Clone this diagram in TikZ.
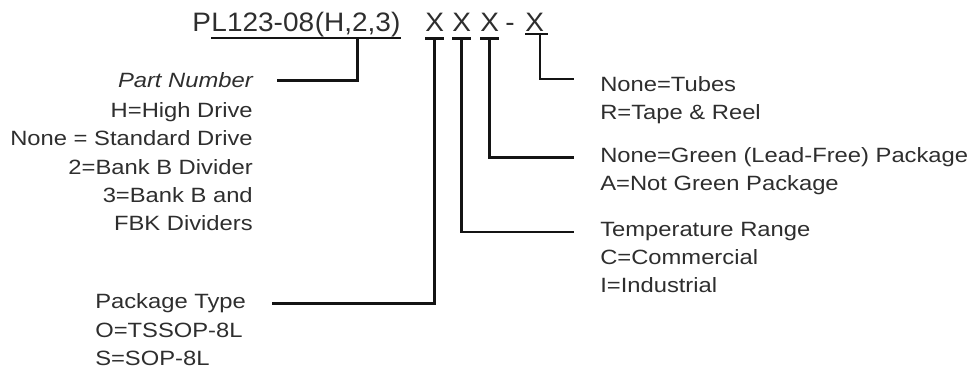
\documentclass[tikz,border=0pt]{standalone}
\usepackage{fontspec}
\setmainfont{Liberation Sans}[FakeStretch=1.15]
\newfontfamily\codefont{Liberation Sans}[FakeStretch=1.05]
\usetikzlibrary{calc,positioning}
\definecolor{Ink}{HTML}{2E2E2E}
\definecolor{Wire}{HTML}{141414}

\begin{document}
\begin{tikzpicture}[x=0.75pt,y=-0.75pt,
  every node/.style={inner sep=0pt,text=Ink,font=\fontsize{15.5}{21.3}\selectfont},
  code/.style={anchor=base west,font=\codefont\fontsize{20}{24}\selectfont},
  lead/.style={draw=Wire,line width=1.8pt,shorten >=19.5pt},
  bar/.style={draw=Wire,line width=1.8pt}]
  \useasboundingbox (0,0) rectangle (972,370);
  % ordering code
  \node[code] (pp) at (192,32) {P};
  \node[code] (pnum) at (pp.base east) {L123-08};
  \node[code] (popt) at (pnum.base east) {(H,2,3)};
  \node[code] (xpkg) at (425,32) {X};
  \node[code] (xtemp) at (452,32) {X};
  \node[code] (xgreen) at (480,32) {X};
  \node[code] (dash) at (505,32) {-};
  \node[code] (xreel) at (525,32) {X};
  % field descriptions (base of a multi-line node = its last line)
  \node[anchor=base east,font=\itshape\fontsize{15.5}{21.3}\selectfont] (partno) at (253,88) {Part Number};
  \node[anchor=base east,align=right] (partnobody) at (253,231) {H=High Drive\\None = Standard Drive\\2=Bank B Divider\\3=Bank B and\\FBK Dividers};
  \node[anchor=base west] (pkg) at (95,309) {Package Type};
  \node[anchor=base west,align=left] (pkgbody) at (95,366) {O=TSSOP-8L\\S=SOP-8L};
  \node[anchor=base west] (temp) at (600,237) {Temperature Range};
  \node[anchor=base west,align=left] (tempbody) at (600,293) {C=Commercial\\I=Industrial};
  \node[anchor=base west] (green) at (600,163) {None=Green (Lead-Free) Package};
  \node[anchor=base west] (greenbody) at (600,191) {A=Not Green Package};
  \node[anchor=base west] (reel) at (600,92) {None=Tubes};
  \node[anchor=base west] (reelbody) at (600,120) {R=Tape \& Reel};
  % underlines
  \draw[bar] ([yshift=-4.5pt]pnum.base west) -- ([yshift=-4.5pt]popt.base east);
  \draw[bar] ([yshift=-5pt]xpkg.base west) -- ([yshift=-5pt]xpkg.base east);
  \draw[bar] ([yshift=-5pt]xtemp.base west) -- ([yshift=-5pt]xtemp.base east);
  \draw[bar] ([yshift=-5pt]xgreen.base west) -- ([yshift=-5pt]xgreen.base east);
  \draw[bar] ([yshift=-1.5pt]xreel.base west) -- ([xshift=3pt,yshift=-1.5pt]xreel.base east);
  % leaders
  \draw[lead,shorten >=18pt] ([yshift=-4.5pt]popt.base) |- (partno.east);
  \draw[lead] ([yshift=-5pt]xpkg.base) |- (pkg.east);
  \draw[lead] ([yshift=-5pt]xtemp.base) |- (temp.west);
  \draw[lead] ([yshift=-5pt]xgreen.base) |- (green.west);
  \draw[lead] ([xshift=-3pt,yshift=-1.5pt]xreel.base east) |- ([yshift=4pt]reel.west);
\end{tikzpicture}
\end{document}
